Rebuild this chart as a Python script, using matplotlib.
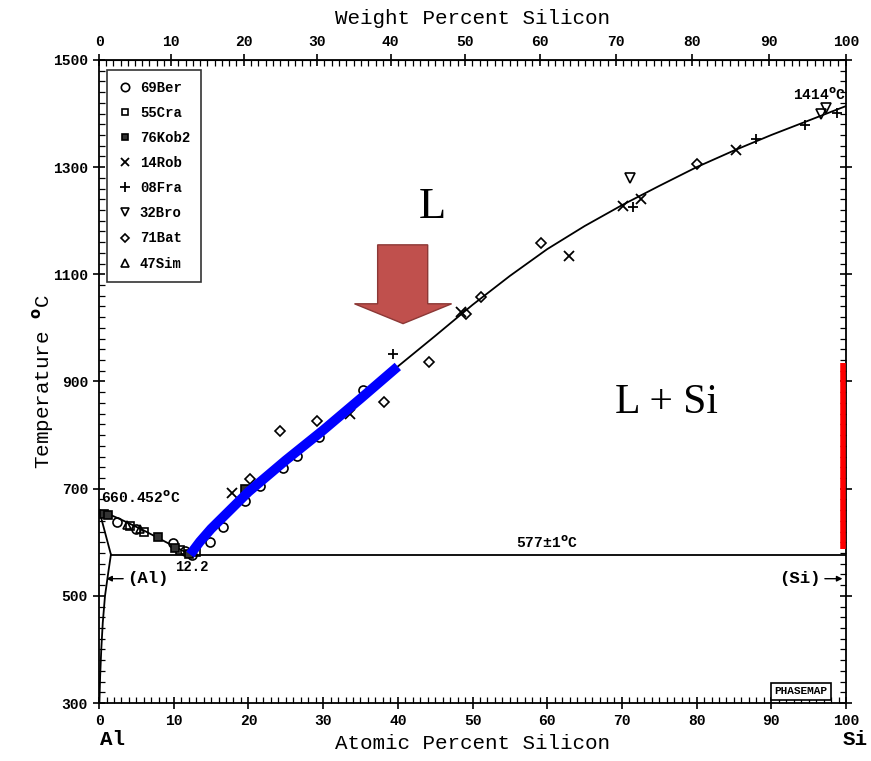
import matplotlib
matplotlib.use("Agg")
import matplotlib.pyplot as plt
import numpy as np
from matplotlib.lines import Line2D
from matplotlib.patches import Polygon
from matplotlib.ticker import MultipleLocator, FixedLocator

# liquidus (atomic % Si, deg C)
liq_al_at = [0, 3, 6, 9, 12.2]
liq_al_T = [660.452, 642, 622, 600, 577]
liq_si_at = [12.2, 13.5, 15, 20, 25, 30, 35, 40, 45, 50, 55, 60, 65, 70, 75, 80, 85, 90, 95, 100]
liq_si_T = [577, 601, 625, 694, 753, 809, 868, 928, 985, 1043, 1097, 1147, 1190, 1229, 1265, 1300, 1331, 1360, 1387, 1414]
solidus_at = [0, 1.59]
solidus_T = [660.452, 577]
solvus_at = [1.59, 1.2, 0.8, 0.5, 0.3, 0.15, 0.05]
solvus_T = [577, 540, 500, 450, 400, 350, 300]
eutectic_at = [1.59, 100]
eutectic_T = [577, 577]

# highlighted part of the liquidus
blue_at = [12.2, 13.5, 15, 20, 25, 30, 35, 40]
blue_T = [577, 601, 625, 694, 753, 809, 868, 928]
red_at = [99.6, 99.6]
red_T = [587, 934]

# experimental points
ber_at = [2.4, 5.0, 9.9, 11.5, 12.4, 14.8, 16.6, 19.6, 21.6, 24.6, 26.5, 29.5, 35.3]
ber_T = [638, 625, 598, 583, 577, 600, 629, 677, 705, 738, 761, 796, 884]
cra_at = [4.2, 6.0, 10.8, 13.0]
cra_T = [630, 619, 586, 582]
kob_at = [0.6, 1.2, 7.9, 10.2, 12.0, 19.5]
kob_T = [652, 650, 610, 589, 578, 700]
rob_at = [17.8, 33.6, 48.5, 62.9, 70.2, 72.6, 85.3]
rob_T = [691, 840, 1030, 1134, 1228, 1241, 1332]
fra_at = [39.3, 71.5, 88.0, 94.5, 98.8]
fra_T = [952, 1226, 1353, 1378, 1401]
bro_at = [71.1, 96.7, 97.3]
bro_T = [1279, 1400, 1410]
bat_at = [20.2, 24.2, 29.2, 38.2, 44.2, 49.1, 51.2, 59.2, 80.0]
bat_T = [718, 807, 827, 862, 937, 1026, 1058, 1158, 1306]
sim_at = [3.8, 5.5]
sim_T = [633, 624]

y_ticks = [300, 500, 700, 900, 1100, 1300, 1500]

M_SI = 28.086
M_AL = 26.982


def at_to_wt(a):
    a = np.clip(np.asarray(a, dtype=float), 0, 100)
    return a * M_SI / (a * M_SI + (100 - a) * M_AL) * 100


def wt_to_at(w):
    w = np.clip(np.asarray(w, dtype=float), 0, 100)
    return (w / M_SI) / (w / M_SI + (100 - w) / M_AL) * 100


plt.rcParams["font.family"] = "Liberation Mono"
plt.rcParams["font.weight"] = "bold"
plt.rcParams["mathtext.default"] = "bf"

fig = plt.figure(figsize=(8.71, 7.61), dpi=100)
ax = fig.add_axes([0.1137, 0.0762, 0.8576, 0.845])
ax.set_xlim(0, 100)
ax.set_ylim(300, 1500)

k = "black"
ax.plot(liq_al_at, liq_al_T, color=k, lw=1.3)
ax.plot(liq_si_at, liq_si_T, color=k, lw=1.3)
ax.plot(solidus_at, solidus_T, color=k, lw=1.3)
ax.plot(solvus_at, solvus_T, color=k, lw=1.3)
ax.plot(eutectic_at, eutectic_T, color=k, lw=1.3)

ms = 6.5
ax.plot(ber_at, ber_T, "o", mfc="none", mec=k, ms=ms, mew=1.2)
ax.plot(cra_at, cra_T, "s", mfc="none", mec=k, ms=ms - 1, mew=1.2)
ax.plot(kob_at, kob_T, "s", mfc="#333333", mec=k, ms=ms - 1, mew=1.2)
ax.plot(rob_at, rob_T, "x", color=k, ms=ms + 1, mew=1.3)
ax.plot(fra_at, fra_T, "+", color=k, ms=ms + 1, mew=1.3)
ax.plot(bro_at, bro_T, "v", mfc="none", mec=k, ms=ms + 1, mew=1.2)
ax.plot(bat_at, bat_T, "D", mfc="none", mec=k, ms=ms - 1.5, mew=1.2)
ax.plot(sim_at, sim_T, "^", mfc="none", mec=k, ms=ms - 1, mew=1.2)

ax.plot(blue_at, blue_T, color="#0000ff", lw=7, solid_capstyle="butt", zorder=5)
ax.plot(red_at, red_T, color="#ff0000", lw=4, solid_capstyle="butt", zorder=5)

# red arrow pointing at the liquidus
arrow = np.array([[37.3, 1155], [44.0, 1155], [44.0, 1045], [47.2, 1045],
                  [40.7, 1008], [34.2, 1045], [37.3, 1045]])
ax.add_patch(Polygon(arrow, closed=True, fc="#c0504d", ec="#8c3836", lw=1, zorder=6))

ax.text(44.6, 1225, "L", fontsize=32, family="Liberation Serif", weight="normal",
        ha="center", va="center")
ax.text(76, 860, "L + Si", fontsize=30, family="Liberation Serif", weight="normal",
        ha="center", va="center")

ax.text(0.3, 668, "660.452$^{\\rm o}$C", fontsize=10.5, ha="left", va="bottom")
ax.text(12.4, 567, "12.2", fontsize=10, ha="center", va="top")
ax.text(60, 583, "577±1$^{\\rm o}$C", fontsize=10.5, ha="center", va="bottom")
ax.text(96.5, 1420, "1414$^{\\rm o}$C", fontsize=10.5, ha="center", va="bottom")

ax.annotate("", xy=(0.6, 532), xytext=(3.6, 532),
            arrowprops=dict(arrowstyle="-|>", color=k, lw=1, mutation_scale=8))
ax.text(3.8, 532, "(Al)", fontsize=12.5, ha="left", va="center")
ax.annotate("", xy=(99.9, 532), xytext=(96.8, 532),
            arrowprops=dict(arrowstyle="-|>", color=k, lw=1, mutation_scale=8))
ax.text(96.6, 532, "(Si)", fontsize=12.5, ha="right", va="center")

ax.text(94.0, 322, "PHASEMAP", fontsize=8, weight="bold", ha="center", va="center",
        bbox=dict(boxstyle="square,pad=0.3", fc="white", ec=k, lw=1.2))

# axes and ticks
ax.xaxis.set_major_locator(MultipleLocator(10))
ax.xaxis.set_minor_locator(MultipleLocator(1))
ax.yaxis.set_major_locator(FixedLocator(y_ticks))
ax.yaxis.set_minor_locator(MultipleLocator(20))
ax.tick_params(which="major", direction="inout", length=9, width=1.2, labelsize=10.5)
ax.tick_params(which="minor", direction="in", length=4, width=0.9)
ax.tick_params(right=True, which="both")
for s in ax.spines.values():
    s.set_linewidth(1.3)

top = ax.secondary_xaxis("top", functions=(at_to_wt, wt_to_at))
top.xaxis.set_major_locator(FixedLocator(np.arange(0, 101, 10)))
top.xaxis.set_minor_locator(FixedLocator(np.arange(0, 101, 1)))
top.tick_params(which="major", direction="inout", length=9, width=1.2, labelsize=10.5)
top.tick_params(which="minor", direction="in", length=4, width=0.9)
top.set_xlabel("Weight Percent Silicon", fontsize=15, labelpad=8)

ax.set_xlabel("Atomic Percent Silicon", fontsize=15, labelpad=4)
ax.set_ylabel("Temperature $^{\\rm o}$C", fontsize=15, labelpad=-2)
fig.text(0.129, 0.016, "Al", fontsize=15, ha="center", va="bottom")
fig.text(0.982, 0.016, "Si", fontsize=15, ha="center", va="bottom")

handles = [
    Line2D([], [], ls="none", marker="o", mfc="none", mec=k, ms=6, mew=1.2),
    Line2D([], [], ls="none", marker="s", mfc="none", mec=k, ms=5, mew=1.2),
    Line2D([], [], ls="none", marker="s", mfc="#333333", mec=k, ms=5, mew=1.2),
    Line2D([], [], ls="none", marker="x", color=k, ms=6, mew=1.3),
    Line2D([], [], ls="none", marker="+", color=k, ms=7, mew=1.3),
    Line2D([], [], ls="none", marker="v", mfc="none", mec=k, ms=6, mew=1.2),
    Line2D([], [], ls="none", marker="D", mfc="none", mec=k, ms=4.5, mew=1.2),
    Line2D([], [], ls="none", marker="^", mfc="none", mec=k, ms=6, mew=1.2),
]
names = ["69Ber", "55Cra", "76Kob2", "14Rob", "08Fra", "32Bro", "71Bat", "47Sim"]
leg = ax.legend(handles, names, loc="upper left", bbox_to_anchor=(0.01, 0.985),
                fontsize=10, frameon=True, fancybox=False, edgecolor=k,
                handlelength=1.0, handletextpad=0.6, labelspacing=0.8,
                borderpad=0.8, borderaxespad=0)
leg.get_frame().set_linewidth(1.2)

fig.savefig("out.png", dpi=100)
